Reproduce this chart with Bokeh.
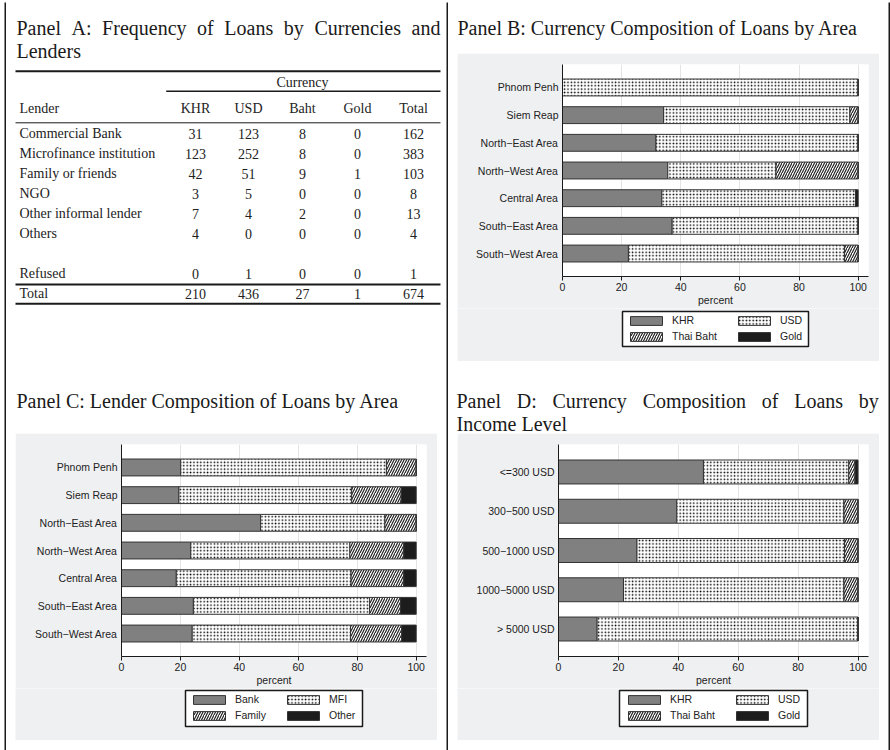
from bokeh.plotting import figure
from bokeh.models import (Range1d, FactorRange, FixedTicker, Label, Legend, LegendItem,
                          ColumnDataSource, Spacer)
from bokeh.layouts import column, row
from bokeh.transform import stack
from bokeh.embed import file_html
from bokeh.resources import INLINE
from bokeh.core.properties import value

# ---------------- Panel A data (counts) ----------------
lenders = ["Commercial Bank", "Microfinance institution", "Family or friends", "NGO",
           "Other informal lender", "Others", "Refused"]
table_cols = ["KHR", "USD", "Baht", "Gold", "Total"]
khr_counts = [31, 123, 42, 3, 7, 4, 0]
usd_counts = [123, 252, 51, 5, 4, 0, 1]
baht_counts = [8, 8, 9, 0, 2, 0, 0]
gold_counts = [0, 0, 1, 0, 0, 0, 0]
row_totals = [162, 383, 103, 8, 13, 4, 1]
col_totals = [210, 436, 27, 1, 674]

# ---------------- Panel B data (percent) ----------------
areas = ["Phnom Penh", "Siem Reap", "North\u2212East Area", "North\u2212West Area",
         "Central Area", "South\u2212East Area", "South\u2212West Area"]
b_khr = [0.0, 34.2, 31.6, 35.6, 33.6, 37.1, 22.3]
b_usd = [100.0, 63.0, 68.4, 36.6, 65.5, 62.9, 73.1]
b_baht = [0.0, 2.8, 0.0, 27.8, 0.0, 0.0, 4.6]
b_gold = [0.0, 0.0, 0.0, 0.0, 0.9, 0.0, 0.0]
currency_labels = ["KHR", "USD", "Thai Baht", "Gold"]

# ---------------- Panel C data (percent) ----------------
c_bank = [20.1, 19.5, 47.2, 23.5, 18.6, 24.4, 24.0]
c_mfi = [69.8, 58.6, 42.2, 54.0, 59.3, 59.8, 53.7]
c_family = [10.1, 16.8, 10.6, 18.3, 17.9, 10.5, 17.4]
c_other = [0.0, 5.1, 0.0, 4.2, 4.2, 5.3, 4.9]
lender_labels = ["Bank", "MFI", "Family", "Other"]

# ---------------- Panel D data (percent) ----------------
incomes = ["<=300 USD", "300\u2212500 USD", "500\u22121000 USD", "1000\u22125000 USD", "> 5000 USD"]
d_khr = [48.4, 39.5, 26.2, 21.7, 12.9]
d_usd = [48.5, 55.8, 69.3, 73.6, 87.1]
d_baht = [2.1, 4.7, 4.5, 4.7, 0.0]
d_gold = [1.0, 0.0, 0.0, 0.0, 0.0]

x_ticks = [0, 20, 40, 60, 80, 100]
x_end = 103.5

# ---------------- style ----------------
SERIF = "Liberation Serif"
SANS = "Liberation Sans"
INK = "#1a1a1a"
GRAY_BG = "#eff0f2"
FILLS = ["#808080", "white", "white", "#1c1c1c"]
HATCHES = [None, "dot", "right_diagonal_line", None]
HSCALE = [4, 3.4, 5, 4]
HWEIGHT = [1, 3.0, 1.2, 1]
HCOLORS = ["#222222", "#000000", "#222222", "#222222"]
BAR_LINE = "#333333"

TNR = {' ': 250, 'P': 556, 'a': 444, 'n': 500, 'e': 444, 'l': 278, 'A': 722, ':': 278,
       'F': 556, 'r': 333, 'q': 500, 'u': 500, 'c': 444, 'y': 500, 'o': 500, 'f': 333,
       'L': 611, 's': 389, 'b': 500, 'C': 667, 'i': 278, 'D': 722, 'm': 778, 'p': 500,
       't': 278, 'B': 667, 'd': 500, 'I': 333, 'v': 500, 'h': 500}


def text_w(s, size):
    return sum(TNR.get(ch, 500) for ch in s) * size / 1000.0


def no_align(p):
    try:
        p.frame_align = False
    except Exception:
        pass


def plain_fig(x0, x1, y0, y1, fill="white"):
    """Figure whose frame is its whole canvas; data coordinates = page pixels."""
    f = figure(width=int(round(x1 - x0)), height=int(round(y1 - y0)), x_range=Range1d(x0, x1),
               y_range=Range1d(y1, y0), x_axis_type=None, y_axis_type=None,
               output_backend="svg", toolbar_location=None, min_border=0)
    f.title = None
    f.outline_line_color = None
    f.background_fill_color = fill
    f.border_fill_color = fill
    f.grid.visible = False
    no_align(f)
    return f


def rule_fig(w, h):
    return plain_fig(0, w, 0, h, fill=INK)


def title_label(p, text, x, y):
    p.add_layout(Label(x=x, y=y, text=text, text_font=SERIF, text_font_size="20px",
                       text_color=INK, text_baseline="alphabetic", text_align="left"))


def add_title_line(p, text, x0, y, x1=None, size=20):
    words = text.split(" ")
    if x1 is None or len(words) == 1:
        title_label(p, text, x0, y)
        return
    nat = sum(text_w(w, size) for w in words)
    gap = (x1 - x0 - nat) / (len(words) - 1)
    x = x0
    for w in words:
        title_label(p, w, x, y)
        x += text_w(w, size) + gap


def bar_kwargs(i):
    kw = dict(fill_color=FILLS[i], line_color=BAR_LINE, line_width=1)
    if HATCHES[i] is not None:
        kw.update(hatch_pattern=HATCHES[i], hatch_color=HCOLORS[i],
                  hatch_scale=HSCALE[i], hatch_weight=HWEIGHT[i])
    return kw


def chart_fig(cats, series, size, borders, pad):
    w, h = size
    bl, br, bt, bb = borders
    p = figure(width=w, height=h, x_range=Range1d(0, x_end),
               y_range=FactorRange(factors=list(reversed(cats)), range_padding=pad),
               output_backend="svg", toolbar_location=None,
               min_border_left=bl, min_border_right=br, min_border_top=bt, min_border_bottom=bb)
    p.title = None
    no_align(p)
    p.background_fill_color = "white"
    p.border_fill_color = GRAY_BG
    p.outline_line_color = None

    data = {"cat": cats}
    keys = []
    for i, s in enumerate(series):
        data["s%d" % i] = s
        keys.append("s%d" % i)
    src = ColumnDataSource(data)
    for i in range(len(keys)):
        p.hbar(y="cat", left=stack(*keys[:i]), right=stack(*keys[:i + 1]),
               height=0.61, source=src, **bar_kwargs(i))

    xa = p.xaxis[0]
    xa.ticker = FixedTicker(ticks=x_ticks)
    xa.axis_label = "percent"
    xa.axis_label_text_font = SANS
    xa.axis_label_text_font_size = "10.5px"
    xa.axis_label_text_font_style = "normal"
    xa.axis_label_text_color = "#222222"
    xa.axis_label_standoff = 0
    xa.major_label_text_font = SANS
    xa.major_label_text_font_size = "10.5px"
    xa.major_label_text_color = "#222222"
    xa.major_label_standoff = 2
    xa.major_tick_out = 4
    xa.major_tick_in = 0
    xa.minor_tick_line_color = None
    xa.axis_line_color = INK
    xa.major_tick_line_color = INK

    ya = p.yaxis[0]
    ya.major_label_text_font = SANS
    ya.major_label_text_font_size = "10.5px"
    ya.major_label_text_color = "#222222"
    ya.major_tick_line_color = None
    ya.minor_tick_line_color = None
    ya.major_tick_out = 0
    ya.major_label_standoff = 4
    ya.axis_line_color = INK

    p.xgrid.ticker = FixedTicker(ticks=x_ticks)
    p.xgrid.grid_line_color = "#e4e4e4"
    p.ygrid.visible = False
    return p


def legend_fig(x0, x1, y0, y1, labels, box, col_x, rows_bottom):
    """Gray strip under the chart holding the legend (two columns)."""
    lf = plain_fig(x0, x1, y0, y1, fill=GRAY_BG)
    bx0, bx1, by0, by1 = box
    lf.quad(left=[bx0], right=[bx1], top=[by0], bottom=[by1], fill_color="white",
            line_color=INK, line_width=1.5)
    rends = []
    for i in range(4):
        # keyed swatch renderers, their single bar lies outside the visible frame
        rends.append(lf.hbar(y=[y1 + 500], left=[x0], right=[x0 + 1], height=1, **bar_kwargs(i)))
    vy = y1 - rows_bottom
    common = dict(orientation="vertical", glyph_width=40, glyph_height=11,
                  label_height=11, label_width=10, label_standoff=6, spacing=4,
                  padding=0, margin=0, label_text_font=SANS, label_text_font_size="10.5px",
                  label_text_color="#222222", border_line_color=None,
                  background_fill_alpha=0.0)
    # column 1: items 0 and 2 ; column 2: items 1 and 3 (row-major reading order)
    for c, idx in enumerate([(0, 2), (1, 3)]):
        lg = Legend(items=[LegendItem(label=value(labels[k]), renderers=[rends[k]], index=0)
                           for k in idx],
                    location=(col_x[c] - x0, vy), **common)
        lf.add_layout(lg)
    return lf


# ---------------- Panel A (table) : page x 6..446, y 4..377 ----------------
pa = plain_fig(6, 446, 4, 377)
col_x = [195, 248, 302, 357, 413]
lender_x = 19
row_y = [133.3, 153.3, 173.3, 193.3, 213.3, 233.3, 273.3]
TF = value(SERIF)
TS = value("14px")
TC = "#222222"

pa.text(x=[lender_x] * len(lenders), y=row_y, text=lenders, text_align="left",
        text_baseline="middle", text_font=TF, text_font_size=TS, text_color=TC)
for j, vals in enumerate([khr_counts, usd_counts, baht_counts, gold_counts, row_totals]):
    pa.text(x=[col_x[j]] * len(vals), y=row_y, text=[str(v) for v in vals],
            text_align="center", text_baseline="middle", text_font=TF,
            text_font_size=TS, text_color=TC)
pa.text(x=[lender_x], y=[108.3], text=["Lender"], text_align="left", text_baseline="middle",
        text_font=TF, text_font_size=TS, text_color=TC)
pa.text(x=col_x, y=[108.3] * 5, text=table_cols, text_align="center", text_baseline="middle",
        text_font=TF, text_font_size=TS, text_color=TC)
pa.text(x=[302], y=[81.7], text=["Currency"], text_align="center", text_baseline="middle",
        text_font=TF, text_font_size=TS, text_color=TC)
pa.text(x=[lender_x], y=[293.3], text=["Total"], text_align="left", text_baseline="middle",
        text_font=TF, text_font_size=TS, text_color=TC)
pa.text(x=col_x, y=[293.3] * 5, text=[str(v) for v in col_totals], text_align="center",
        text_baseline="middle", text_font=TF, text_font_size=TS, text_color=TC)

pa.segment(x0=[15, 15, 15], y0=[70.7, 284.0, 303.3], x1=[440, 440, 440], y1=[70.7, 284.0, 303.3],
           line_color=INK, line_width=2)
pa.segment(x0=[165.7], y0=[90.7], x1=[440], y1=[90.7], line_color=INK, line_width=1.4)
pa.segment(x0=[15], y0=[122.3], x1=[440], y1=[122.3], line_color=INK, line_width=1)

add_title_line(pa, "Panel A: Frequency of Loans by Currencies and", 16, 27.3, 440)
add_title_line(pa, "Lenders", 16, 50.3)

# ---------------- Panel B : page x 448..888, y 4..377 ----------------
tb = plain_fig(448, 888, 4, 53)
add_title_line(tb, "Panel B: Currency Composition of Loans by Area", 457, 27.3)
pb = chart_fig(areas, [b_khr, b_usd, b_baht, b_gold],
               size=(422, 255), borders=(105, 11, 11, 32), pad=0.66 / 7)
lb = legend_fig(457, 879, 308, 361, currency_labels, box=(622, 808, 311, 346),
                col_x=(626, 734), rows_bottom=342)
cell_b = column(tb, row(Spacer(width=9, height=308), column(pb, lb), Spacer(width=9, height=308)),
                Spacer(width=440, height=16))

# ---------------- Panel C : page x 6..446, y 379..750 ----------------
tc = plain_fig(6, 446, 379, 433)
add_title_line(tc, "Panel C: Lender Composition of Loans by Area", 16, 400.0)
pc = chart_fig(areas, [c_bank, c_mfi, c_family, c_other],
               size=(422, 255), borders=(106, 11, 11, 32), pad=0.66 / 7)
lc = legend_fig(15, 437, 688, 740, lender_labels, box=(185, 362, 690, 726),
                col_x=(189, 283), rows_bottom=721)
cell_c = column(tc, row(Spacer(width=9, height=307), column(pc, lc), Spacer(width=9, height=307)),
                Spacer(width=440, height=10))

# ---------------- Panel D : page x 448..888, y 379..750 ----------------
td = plain_fig(448, 888, 379, 433)
add_title_line(td, "Panel D: Currency Composition of Loans by", 456, 400.7, 878.3)
add_title_line(td, "Income Level", 456, 423.0)
pd_ = chart_fig(incomes, [d_khr, d_usd, d_baht, d_gold],
                size=(422, 255), borders=(101, 11, 11, 32), pad=0.4 / 5)
ld = legend_fig(457, 879, 688, 740, currency_labels, box=(619, 807, 690, 726),
                col_x=(624, 732), rows_bottom=721)
cell_d = column(td, row(Spacer(width=9, height=307), column(pd_, ld), Spacer(width=9, height=307)),
                Spacer(width=440, height=10))

# ---------------- grid lines between panels ----------------
left_col = column(Spacer(width=440, height=2), rule_fig(440, 2), pa, rule_fig(440, 2), cell_c)
right_col = column(Spacer(width=440, height=2), rule_fig(440, 2), cell_b, rule_fig(440, 2), cell_d)


def vrule():
    return column(Spacer(width=2, height=2), rule_fig(2, 748))


layout = row(Spacer(width=4, height=750), vrule(), left_col, vrule(), right_col, vrule())
open("out.html", "w").write(file_html(layout, INLINE))
